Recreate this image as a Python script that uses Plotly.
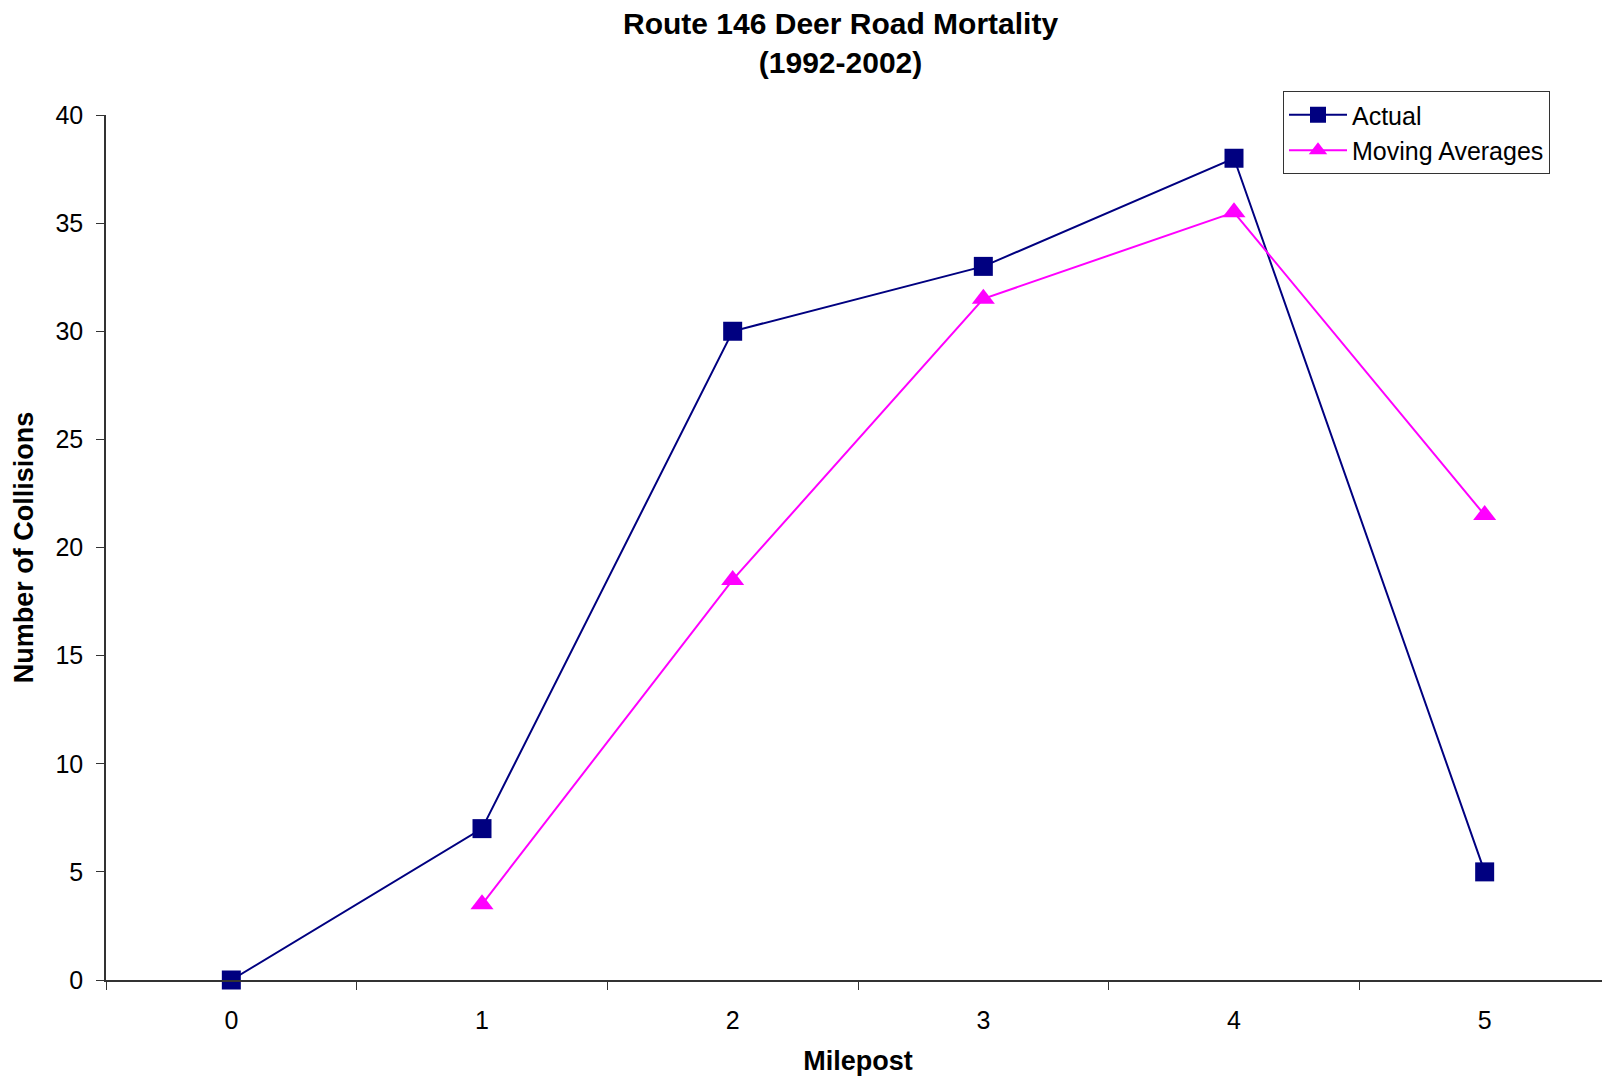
import plotly.graph_objects as go

mileposts = ["0", "1", "2", "3", "4", "5"]
actual = [0, 7, 30, 33, 38, 5]
moving_avg = [None, 3.5, 18.5, 31.5, 35.5, 21.5]
y_ticks = [0, 5, 10, 15, 20, 25, 30, 35, 40]

FONT = "Arial, 'Liberation Sans', sans-serif"

# The page body has an 8px margin, so the figure is sized to fit the rest.
W, H = 1602, 1068
L, R, T, B = 98, 0, 107, 96
PW, PH = W - L - R, H - T - B

fig = go.Figure()
fig.add_trace(go.Scatter(
    x=mileposts, y=actual, name="Actual", mode="lines+markers",
    line=dict(color="#000080", width=2),
    marker=dict(symbol="square", size=19, color="#000080"),
    cliponaxis=False,
))
fig.add_trace(go.Scatter(
    x=mileposts, y=moving_avg, name="Moving Averages", mode="lines+markers",
    line=dict(color="#FF00FF", width=2),
    marker=dict(symbol="triangle-up", size=20, color="#FF00FF"),
    connectgaps=False, cliponaxis=False,
))

fig.add_annotation(
    text="<b>Route 146 Deer Road Mortality<br>(1992-2002)</b>",
    xref="paper", yref="paper",
    x=(832 - L) / PW, y=(H - B - 35) / PH,
    xanchor="center", yanchor="middle", showarrow=False,
    font=dict(family=FONT, size=30, color="black"),
)

fig.update_layout(
    width=W, height=H,
    paper_bgcolor="white", plot_bgcolor="white",
    margin=dict(l=L, r=R, t=T, b=B, autoexpand=False),
    font=dict(family=FONT, size=25, color="black"),
    showlegend=True,
    legend=dict(
        xref="container", yref="container",
        x=(1283 - 8) / W, xanchor="left",
        y=1 - (91 - 8) / H, yanchor="top",
        bordercolor="#333333", borderwidth=1, bgcolor="white",
        font=dict(family=FONT, size=25, color="black"),
        itemwidth=58, tracegroupgap=0,
    ),
    xaxis=dict(
        type="category", categoryorder="array", categoryarray=mileposts,
        range=[-0.5, 5.5], automargin=False,
        tickson="boundaries", ticks="outside", ticklen=8, tickcolor="#333333",
        showline=True, linecolor="#333333", linewidth=1.5,
        showgrid=False, zeroline=False,
        ticklabelstandoff=17,
        title=dict(text="<b>Milepost</b>", font=dict(family=FONT, size=27), standoff=24),
    ),
    yaxis=dict(
        range=[0, 40], tickvals=y_ticks, automargin=False,
        ticks="outside", ticklen=8, tickcolor="#333333",
        showline=True, linecolor="#333333", linewidth=1.5,
        showgrid=False, zeroline=False,
        ticklabelstandoff=8,
        title=dict(text="<b>Number of Collisions</b>", font=dict(family=FONT, size=27), standoff=14),
    ),
)

fig.write_html("out.html")
